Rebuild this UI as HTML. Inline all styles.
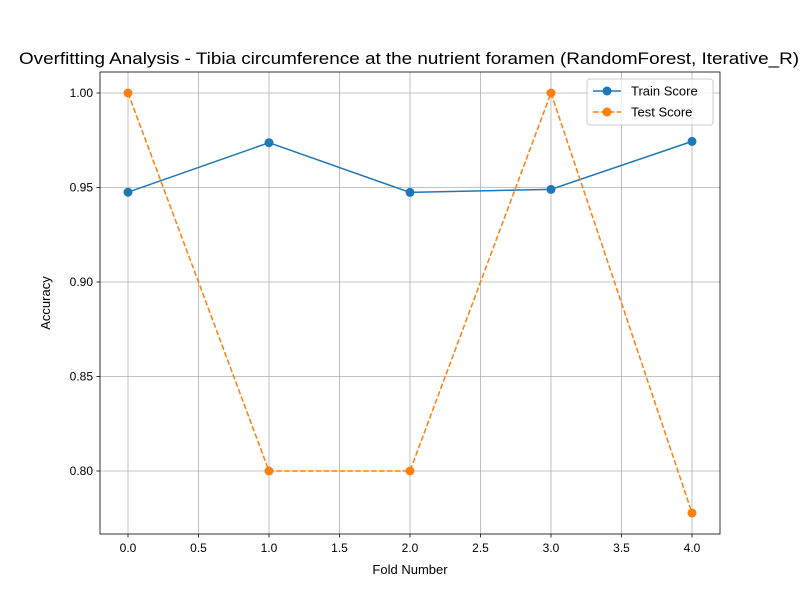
<!DOCTYPE html>
<html><head><meta charset="utf-8"><style>body{margin:0;background:#fff}svg{font-family:"Liberation Sans",sans-serif}</style></head><body>
<svg id="c" width="800" height="600"></svg>
<script>
const folds=[0,1,2,3,4];
const trainScores=[0.9475,0.9737,0.9474,0.949,0.9744];
const testScores=[1.0,0.8,0.8,1.0,0.7778];
const xTicks=[0,0.5,1,1.5,2,2.5,3,3.5,4];
const xTickLabels=["0.0","0.5","1.0","1.5","2.0","2.5","3.0","3.5","4.0"];
const yTicks=[0.80,0.85,0.90,0.95,1.00];
const yTickLabels=["0.80","0.85","0.90","0.95","1.00"];
const L=100,R=720,T=72,B=534;
const xs=v=>128+(v-0)*(692-128)/4;
const ys=v=>93+(1-v)*1890;
const svg=document.getElementById('c');
const NS='http://www.w3.org/2000/svg';
function mk(t,a,p){const e=document.createElementNS(NS,t);for(const k in a)e.setAttribute(k,a[k]);(p||svg).appendChild(e);return e;}
let e;
xTicks.forEach((v,i)=>{const x=xs(v);
e=mk('line',{x1:x,x2:x,y1:T,y2:B,stroke:'#b0b0b0','stroke-width':0.8});
e=mk('line',{x1:x,x2:x,y1:B,y2:B+3.5,stroke:'#000','stroke-width':0.8});
e=mk('text',{x:x,y:B+18,'text-anchor':'middle','font-size':12});e.textContent=xTickLabels[i];});
yTicks.forEach((v,i)=>{const y=ys(v);
e=mk('line',{x1:L,x2:R,y1:y,y2:y,stroke:'#b0b0b0','stroke-width':0.8});
e=mk('line',{x1:L-3.5,x2:L,y1:y,y2:y,stroke:'#000','stroke-width':0.8});
e=mk('text',{x:L-7,y:y+4,'text-anchor':'end','font-size':12});e.textContent=yTickLabels[i];});
function series(vals,color,dash,name){
const pts=folds.map((f,i)=>xs(f)+','+ys(vals[i])).join(' ');
e=mk('polyline',{points:pts,fill:'none',stroke:color,'stroke-width':1.5,'stroke-dasharray':dash});
folds.forEach((f,i)=>{e=mk('circle',{cx:xs(f),cy:ys(vals[i]),r:4.5,fill:color});});}
series(trainScores,'#1f77b4','none','train-score');
series(testScores,'#ff7f0e','5.5,2.4','test-score');
e=mk('rect',{x:L,y:T,width:R-L,height:B-T,fill:'none',stroke:'#000','stroke-width':0.8});
e=mk('text',{x:19,y:64,'font-size':16.5,textLength:780,lengthAdjust:'spacingAndGlyphs'});e.textContent='Overfitting Analysis - Tibia circumference at the nutrient foramen (RandomForest, Iterative_R)';
e=mk('text',{x:410,y:574,'text-anchor':'middle','font-size':13});e.textContent='Fold Number';
e=mk('text',{x:50,y:303,'text-anchor':'middle','font-size':13,transform:'rotate(-90 50 303)'});e.textContent='Accuracy';
const g=mk('g',{});
mk('rect',{x:587,y:79,width:126,height:46,rx:3,fill:'#fff','fill-opacity':0.8,stroke:'#ccc'},g);
[['Train Score','#1f77b4','none',91],['Test Score','#ff7f0e','5.5,2.4',112]].forEach(([t,c,d,y])=>{
e=mk('line',{x1:593,x2:621,y1:y,y2:y,stroke:c,'stroke-width':1.5,'stroke-dasharray':d},g);
e=mk('circle',{cx:607,cy:y,r:4.5,fill:c},g);
e=mk('text',{x:631,y:y+4.5,'font-size':13},g);e.textContent=t;});
</script></body></html>
